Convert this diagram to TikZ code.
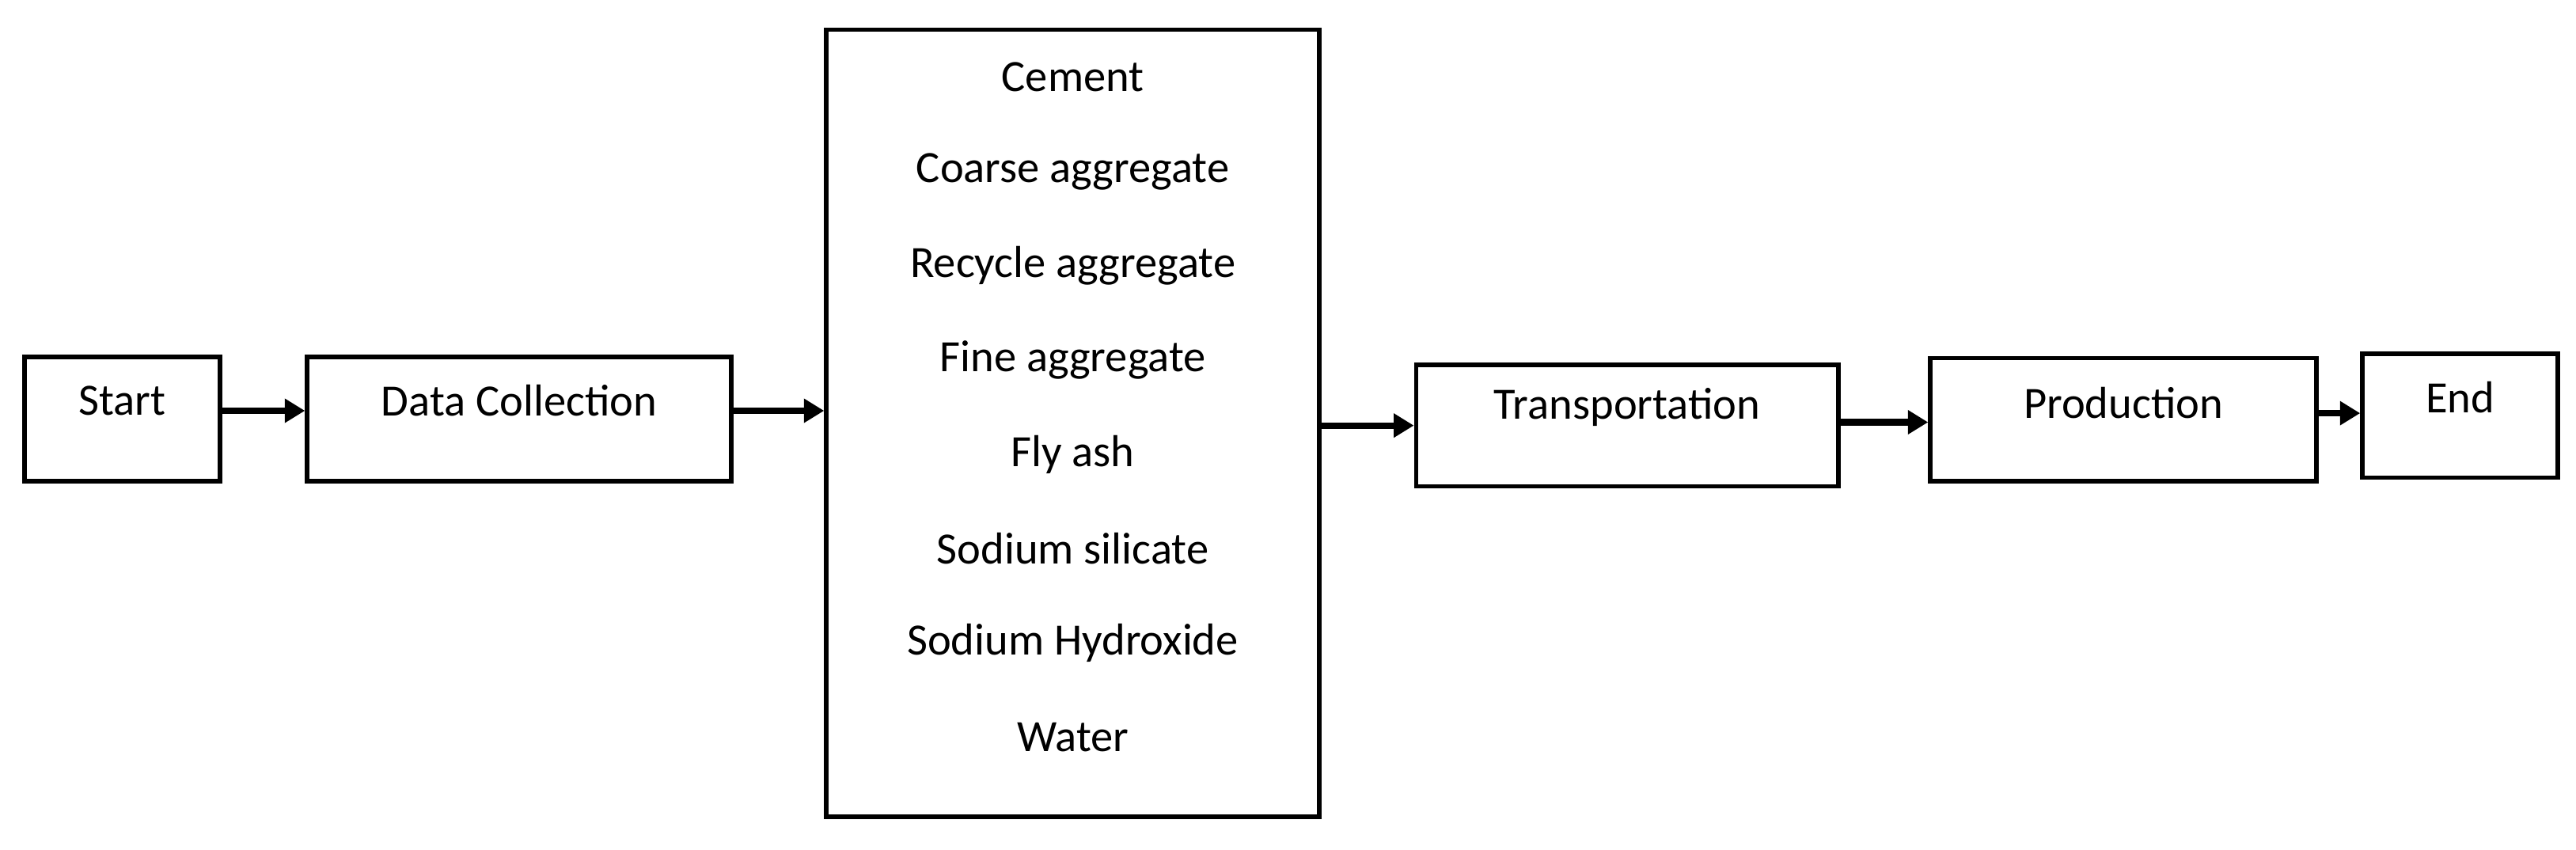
\documentclass[tikz,border=0pt]{standalone}
\usepackage{fontspec}
\setmainfont{Carlito}
\usetikzlibrary{arrows.meta}
\begin{document}
\begin{tikzpicture}[x=0.02cm,y=-0.02cm,
  box/.style={draw,line width=1.6pt,minimum width=#1,minimum height=1.51cm,inner sep=0pt},
  txt/.style={font=\fontsize{15.5}{18}\selectfont},
  arr/.style={line width=2.2pt,-{Triangle[length=7pt,width=8pt]}}]
\useasboundingbox (0,0) rectangle (1568,517);
\node[box=2.38cm] (start) at (74.5,255) {};
\node[txt] (tstart) at (74.5,244) {Start};
\node[box=5.16cm] (dc) at (316,255) {};
\node[txt] (tdc) at (316,244) {Data Collection};
\node[draw,line width=1.6pt,minimum width=6cm,minimum height=9.58cm,inner sep=0pt] (mid) at (653,257.5) {};
\foreach \t [count=\i] in {Cement,Coarse aggregate,Recycle aggregate,Fine aggregate,Fly ash,Sodium silicate,Sodium Hydroxide,Water}
  \node[txt] (m\i) at (653,{47+57.4*(\i-1)}) {\t};
\node[box=5.14cm,minimum height=1.48cm] (tr) at (990.5,259) {};
\node[txt] (ttr) at (990.5,248) {Transportation};
\node[box=4.7cm,minimum height=1.5cm] (pr) at (1292.5,255.5) {};
\node[txt] (tpr) at (1292.5,245) {Production};
\node[box=2.38cm] (en) at (1497.5,253) {};
\node[txt] (ten) at (1497.5,242) {End};
\draw[arr] ([yshift=0.1cm]start.east) -- ([yshift=0.1cm]start.east -| dc.west);
\draw[arr] ([yshift=0.1cm]dc.east) -- ([yshift=0.1cm]dc.east -| mid.west);
\draw[arr] (tr.west -| mid.east) -- (tr.west);
\draw[arr] ([yshift=0.04cm]tr.east) -- ([yshift=0.04cm]tr.east -| pr.west);
\draw[arr] ([yshift=0.08cm]pr.east) -- ([yshift=0.08cm]pr.east -| en.west);
\end{tikzpicture}
\end{document}
